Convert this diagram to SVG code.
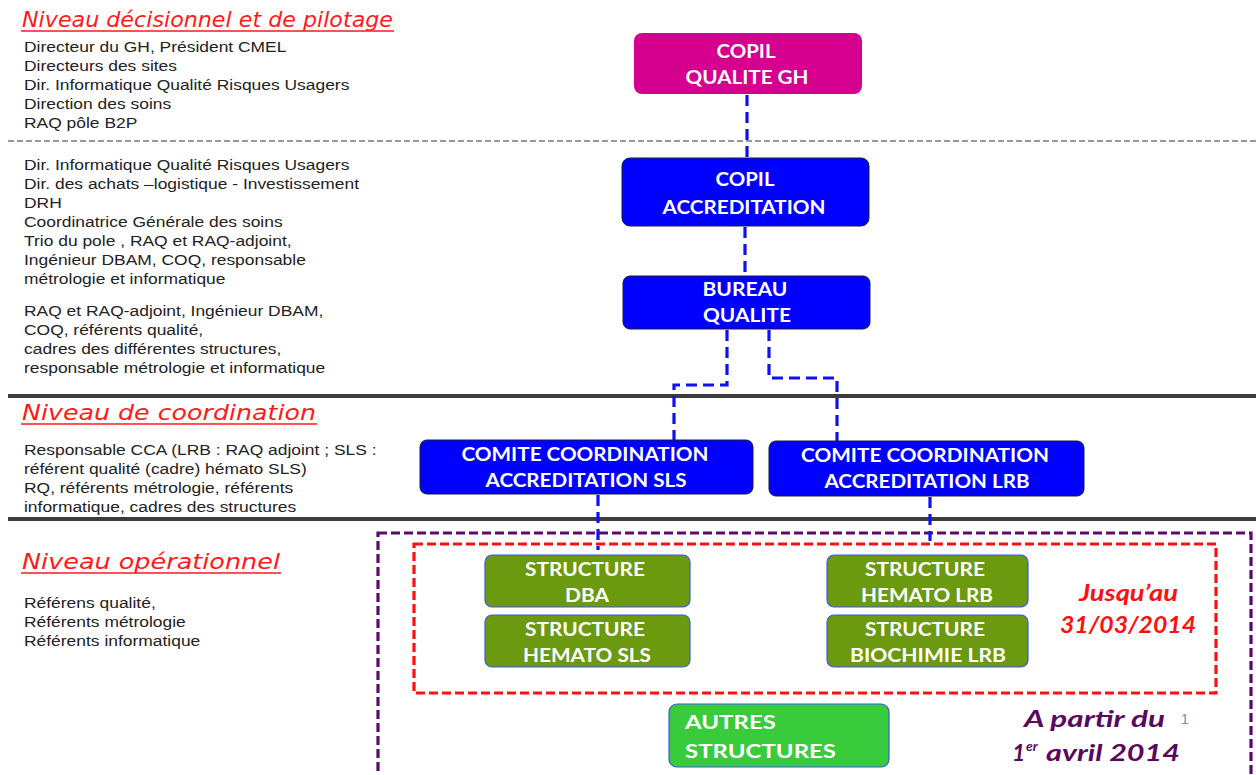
<svg xmlns="http://www.w3.org/2000/svg" width="1256" height="775" viewBox="0 0 1256 775">
  <style>
    .lvl { font-family: "DejaVu Sans", "Open Sans", sans-serif; font-style: italic; font-size: 21px; fill: #ff1a1a; }
    .ul { stroke: #ff1a1a; stroke-width: 1.6; }
    .desc { font-family: "Liberation Sans", Arial, sans-serif; font-size: 15.5px; fill: #222; }
    .box-text { font-family: Lato, "Open Sans", sans-serif; font-weight: bold; font-size: 19px; fill: #fff; text-anchor: middle; }
    .blue { fill: #0000ff; stroke: #1a1a40; stroke-width: 1; }
    .pink { fill: #d6008f; }
    .olive { fill: #6b9a10; stroke: #3a5adf; stroke-width: 1.2; }
    .lime { fill: #38cc3c; stroke: #3a5adf; stroke-width: 1.2; }
    .conn { fill: none; stroke: #1010f0; stroke-width: 3.2; stroke-dasharray: 11 6; }
    .sep { stroke: #3c3c3c; stroke-width: 4; }
    .note { font-family: Lato, "Open Sans", sans-serif; font-style: italic; font-weight: bold; font-size: 23px; }
    .sup { font-size: 14px; }
  </style>

  <rect width="1256" height="775" fill="#fff"/>

  <!-- level separators -->
  <line x1="8" y1="141" x2="1256" y2="141" stroke="#777" stroke-width="1.3" stroke-dasharray="6 3"/>
  <line class="sep" x1="8" y1="396" x2="1256" y2="396"/>
  <line class="sep" x1="8" y1="519" x2="1256" y2="519"/>

  <!-- level headings -->
  <text class="lvl" x="22" y="27" textLength="371" lengthAdjust="spacingAndGlyphs">Niveau décisionnel et de pilotage</text>
  <line class="ul" x1="21" y1="31" x2="394" y2="31"/>
  <text class="lvl" x="22" y="420" textLength="294" lengthAdjust="spacingAndGlyphs">Niveau de coordination</text>
  <line class="ul" x1="21" y1="424" x2="317" y2="424"/>
  <text class="lvl" x="22" y="569" textLength="258" lengthAdjust="spacingAndGlyphs">Niveau opérationnel</text>
  <line class="ul" x1="21" y1="573" x2="281" y2="573"/>

  <!-- member lists (text set slightly wide) -->
  <g class="desc" transform="translate(24 0) scale(1.125 1)">
    <text x="0" y="52">Directeur du GH, Président CMEL</text>
    <text x="0" y="71">Directeurs des sites</text>
    <text x="0" y="90">Dir. Informatique Qualité Risques Usagers</text>
    <text x="0" y="109">Direction des soins</text>
    <text x="0" y="128">RAQ pôle B2P</text>

    <text x="0" y="170">Dir. Informatique Qualité Risques Usagers</text>
    <text x="0" y="189">Dir. des achats –logistique - Investissement</text>
    <text x="0" y="208">DRH</text>
    <text x="0" y="227">Coordinatrice Générale des soins</text>
    <text x="0" y="246">Trio du pole , RAQ et RAQ-adjoint,</text>
    <text x="0" y="265">Ingénieur DBAM, COQ, responsable</text>
    <text x="0" y="284">métrologie et informatique</text>

    <text x="0" y="316">RAQ et RAQ-adjoint, Ingénieur DBAM,</text>
    <text x="0" y="335">COQ, référents qualité,</text>
    <text x="0" y="354">cadres des différentes structures,</text>
    <text x="0" y="373">responsable métrologie et informatique</text>

    <text x="0" y="455">Responsable CCA (LRB : RAQ adjoint ; SLS :</text>
    <text x="0" y="474">référent qualité (cadre) hémato SLS)</text>
    <text x="0" y="493">RQ, référents métrologie, référents</text>
    <text x="0" y="512">informatique, cadres des structures</text>

    <text x="0" y="608">Référens qualité,</text>
    <text x="0" y="627">Référents métrologie</text>
    <text x="0" y="646">Référents informatique</text>
  </g>

  <!-- period frames -->
  <rect x="378" y="533" width="873" height="260" fill="none" stroke="#5c0a6e" stroke-width="3.2" stroke-dasharray="9 4"/>
  <rect x="414" y="544" width="802" height="149" fill="none" stroke="#ff1010" stroke-width="3.2" stroke-dasharray="9 4"/>

  <!-- connectors -->
  <g id="connectors">
    <path class="conn" d="M747 95 V158"/>
    <path class="conn" d="M745 227 V276"/>
    <path class="conn" d="M727 330 V385 H674 V440"/>
    <path class="conn" d="M769 330 V378 H837 V441"/>
    <path class="conn" d="M598 495 V550"/>
    <path class="conn" d="M930 497 V541"/>
  </g>

  <!-- nodes -->
  <g id="copil-qualite-gh">
    <rect class="pink" x="634" y="33" width="228" height="61" rx="8"/>
    <text class="box-text" x="746" y="58" textLength="59" lengthAdjust="spacingAndGlyphs">COPIL</text>
    <text class="box-text" x="747" y="84" textLength="123" lengthAdjust="spacingAndGlyphs">QUALITE GH</text>
  </g>
  <g id="copil-accreditation">
    <rect class="blue" x="622" y="158" width="247" height="68" rx="8"/>
    <text class="box-text" x="745" y="186" textLength="59" lengthAdjust="spacingAndGlyphs">COPIL</text>
    <text class="box-text" x="744" y="214" textLength="163" lengthAdjust="spacingAndGlyphs">ACCREDITATION</text>
  </g>
  <g id="bureau-qualite">
    <rect class="blue" x="623" y="276" width="247" height="53" rx="7"/>
    <text class="box-text" x="745" y="296" textLength="85" lengthAdjust="spacingAndGlyphs">BUREAU</text>
    <text class="box-text" x="747" y="322" textLength="88" lengthAdjust="spacingAndGlyphs">QUALITE</text>
  </g>
  <g id="cca-sls">
    <rect class="blue" x="420" y="440" width="333" height="54" rx="7"/>
    <text class="box-text" x="585" y="461" textLength="247" lengthAdjust="spacingAndGlyphs">COMITE COORDINATION</text>
    <text class="box-text" x="586" y="487" textLength="201" lengthAdjust="spacingAndGlyphs">ACCREDITATION SLS</text>
  </g>
  <g id="cca-lrb">
    <rect class="blue" x="769" y="441" width="315" height="55" rx="7"/>
    <text class="box-text" x="925" y="462" textLength="248" lengthAdjust="spacingAndGlyphs">COMITE COORDINATION</text>
    <text class="box-text" x="927" y="488" textLength="205" lengthAdjust="spacingAndGlyphs">ACCREDITATION LRB</text>
  </g>
  <g id="structure-dba">
    <rect class="olive" x="485" y="555" width="205" height="52" rx="7"/>
    <text class="box-text" x="585" y="576" textLength="120" lengthAdjust="spacingAndGlyphs">STRUCTURE</text>
    <text class="box-text" x="587" y="602" textLength="44" lengthAdjust="spacingAndGlyphs">DBA</text>
  </g>
  <g id="structure-hemato-sls">
    <rect class="olive" x="485" y="615" width="205" height="52" rx="7"/>
    <text class="box-text" x="585" y="636" textLength="120" lengthAdjust="spacingAndGlyphs">STRUCTURE</text>
    <text class="box-text" x="587" y="662" textLength="128" lengthAdjust="spacingAndGlyphs">HEMATO SLS</text>
  </g>
  <g id="structure-hemato-lrb">
    <rect class="olive" x="827" y="555" width="201" height="52" rx="7"/>
    <text class="box-text" x="925" y="576" textLength="120" lengthAdjust="spacingAndGlyphs">STRUCTURE</text>
    <text class="box-text" x="927" y="602" textLength="132" lengthAdjust="spacingAndGlyphs">HEMATO LRB</text>
  </g>
  <g id="structure-biochimie-lrb">
    <rect class="olive" x="827" y="615" width="201" height="52" rx="7"/>
    <text class="box-text" x="925" y="636" textLength="120" lengthAdjust="spacingAndGlyphs">STRUCTURE</text>
    <text class="box-text" x="928" y="662" textLength="156" lengthAdjust="spacingAndGlyphs">BIOCHIMIE LRB</text>
  </g>
  <g id="autres-structures">
    <rect class="lime" x="669" y="704" width="220" height="63" rx="8"/>
    <text class="box-text" x="685" y="729" style="text-anchor:start" textLength="91" lengthAdjust="spacingAndGlyphs">AUTRES</text>
    <text class="box-text" x="685" y="758" style="text-anchor:start" textLength="151" lengthAdjust="spacingAndGlyphs">STRUCTURES</text>
  </g>

  <!-- period labels -->
  <text class="note" x="1079" y="601" fill="#ff1010" textLength="99" lengthAdjust="spacingAndGlyphs">Jusqu’au</text>
  <text class="note" x="1060" y="633" fill="#ff1010" textLength="136" lengthAdjust="spacingAndGlyphs">31/03/2014</text>
  <text class="note" x="1024" y="727" fill="#5a0a5e" textLength="141" lengthAdjust="spacingAndGlyphs">A partir du</text>
  <text class="note" x="1012" y="761" fill="#5a0a5e">1<tspan class="sup" x="1026" y="751">er</tspan><tspan x="1046" y="761" textLength="134" lengthAdjust="spacingAndGlyphs">avril 2014</tspan></text>
  <text x="1185" y="724" font-family="Liberation Sans, Arial, sans-serif" font-size="14" fill="#888" text-anchor="middle">1</text>
</svg>
